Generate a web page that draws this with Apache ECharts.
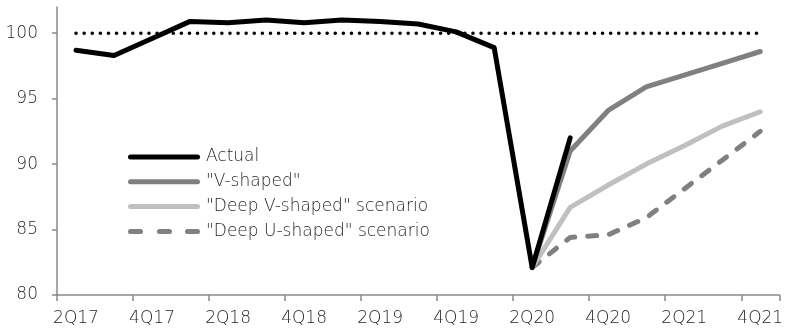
<!DOCTYPE html>
<html>
<head>
<meta charset="utf-8">
<script src="https://cdn.jsdelivr.net/npm/echarts@6/dist/echarts.min.js"></script>
<style>
  html, body { margin: 0; padding: 0; background: #fff; }
  #chart { width: 786px; height: 333px; }
</style>
</head>
<body>
<div id="chart"></div>
<script>
// Quarterly index, pre-crisis level = 100
const quarters = ['2Q17','3Q17','4Q17','1Q18','2Q18','3Q18','4Q18','1Q19','2Q19','3Q19','4Q19',
                  '1Q20','2Q20','3Q20','4Q20','1Q21','2Q21','3Q21','4Q21'];
const actual   = [98.7, 98.3, 99.6, 100.9, 100.8, 101.0, 100.8, 101.0, 100.9, 100.7, 100.1,
                  98.9, 82.1, 92.0, null, null, null, null, null];
const vShaped  = [null, null, null, null, null, null, null, null, null, null, null,
                  null, 82.1, 91.0, 94.1, 95.9, 96.8, 97.7, 98.6];
const deepV    = [null, null, null, null, null, null, null, null, null, null, null,
                  null, 82.1, 86.7, 88.4, 90.0, 91.4, 92.9, 94.0];
const deepU    = [null, null, null, null, null, null, null, null, null, null, null,
                  null, 82.1, 84.4, 84.6, 85.9, 88.1, 90.3, 92.5];
const baseline = [100, 100, 100, 100, 100, 100, 100, 100, 100, 100,
                  100, 100, 100, 100, 100, 100, 100, 100, 100];
const seriesNames = ['Actual', '"V-shaped"', '"Deep V-shaped" scenario', '"Deep U-shaped" scenario'];

const FONT = '"DejaVu Sans", sans-serif';
const WEIGHT = 200;
const FONT_SIZE = 17;
const AXIS_GRAY = '#8a8a8a';
const TEXT = '#262626';

// Legend keys: a solid bar, and three short bars for the dashed scenario
const SOLID_KEY = 'path://M2.5,0 H69.5 A2.5,2.5 0 0 1 69.5,5 H2.5 A2.5,2.5 0 0 1 2.5,0 Z';
const DASH_KEY = 'path://M2.5,0 H12.5 A2.5,2.5 0 0 1 12.5,5 H2.5 A2.5,2.5 0 0 1 2.5,0 Z ' +
                 'M31.5,0 H41.5 A2.5,2.5 0 0 1 41.5,5 H31.5 A2.5,2.5 0 0 1 31.5,0 Z ' +
                 'M59.5,0 H69.5 A2.5,2.5 0 0 1 69.5,5 H59.5 A2.5,2.5 0 0 1 59.5,0 Z';

const chart = echarts.init(document.getElementById('chart'), null, { renderer: 'canvas' });

chart.setOption({
  animation: false,
  grid: { left: 57, right: 0, top: 7, bottom: 38 },
  legend: {
    data: [
      { name: seriesNames[0], icon: SOLID_KEY, itemStyle: { color: '#000' } },
      { name: seriesNames[1], icon: SOLID_KEY, itemStyle: { color: '#808080' } },
      { name: seriesNames[2], icon: SOLID_KEY, itemStyle: { color: '#c0c0c0' } },
      { name: seriesNames[3], icon: DASH_KEY, itemStyle: { color: '#808080' } }
    ],
    orient: 'vertical',
    left: 128,
    top: 147,
    padding: 0,
    itemWidth: 72,
    itemHeight: 5,
    itemGap: 4.8,
    textStyle: { fontFamily: FONT, fontSize: FONT_SIZE, fontWeight: WEIGHT, color: TEXT, lineHeight: 20,
                 padding: [0, 0, 0, 1] }
  },
  xAxis: {
    type: 'category',
    data: quarters,
    boundaryGap: true,
    axisLine: { lineStyle: { color: AXIS_GRAY, width: 1.5 } },
    axisTick: { show: true, length: 6, lineStyle: { color: AXIS_GRAY, width: 1.5 } },
    axisLabel: { interval: 1, margin: 15, fontFamily: FONT, fontSize: FONT_SIZE, fontWeight: WEIGHT, color: TEXT }
  },
  yAxis: {
    type: 'value',
    min: 80,
    max: 102,
    interval: 5,
    axisLine: { show: true, lineStyle: { color: AXIS_GRAY, width: 1.5 } },
    axisTick: { show: true, length: 5, lineStyle: { color: AXIS_GRAY, width: 1.5 } },
    splitLine: { show: false },
    axisLabel: { margin: 19, fontFamily: FONT, fontSize: FONT_SIZE, fontWeight: WEIGHT, color: TEXT,
                 showMaxLabel: false }
  },
  series: [
    {
      name: 'baseline',
      type: 'line',
      data: baseline,
      symbol: 'none',
      silent: true,
      lineStyle: { color: '#000', width: 3.5, type: [0.1, 8], cap: 'round' },
      z: 1
    },
    {
      name: seriesNames[3],
      type: 'line',
      data: deepU,
      symbol: 'none',
      lineStyle: { color: '#808080', width: 5, type: [9, 13], cap: 'round', join: 'round' },
      itemStyle: { color: '#808080' },
      z: 2
    },
    {
      name: seriesNames[2],
      type: 'line',
      data: deepV,
      symbol: 'none',
      lineStyle: { color: '#c0c0c0', width: 5, cap: 'round', join: 'round' },
      itemStyle: { color: '#c0c0c0' },
      z: 3
    },
    {
      name: seriesNames[1],
      type: 'line',
      data: vShaped,
      symbol: 'none',
      lineStyle: { color: '#808080', width: 5, cap: 'round', join: 'round' },
      itemStyle: { color: '#808080' },
      z: 4
    },
    {
      name: seriesNames[0],
      type: 'line',
      data: actual,
      symbol: 'none',
      lineStyle: { color: '#000', width: 5, cap: 'round', join: 'round' },
      itemStyle: { color: '#000' },
      z: 5
    }
  ]
});
</script>
</body>
</html>
